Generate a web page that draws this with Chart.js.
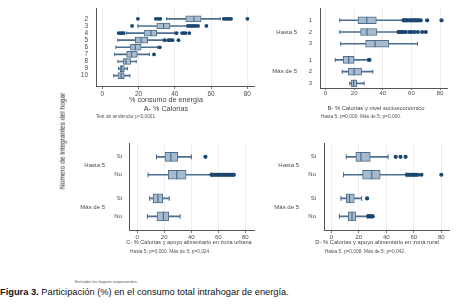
<!DOCTYPE html>
<html>
<head>
<meta charset="utf-8">
<script src="https://cdn.jsdelivr.net/npm/chart.js@4.4.1/dist/chart.umd.min.js"></script>
<style>
  body { margin: 0; background: #fff; }
  #fig { position: relative; width: 457px; height: 306px; overflow: hidden; font-family: "Liberation Sans", Arial, sans-serif; }
  canvas { position: absolute; }
  .t { position: absolute; white-space: nowrap; line-height: 1; color: #444; }
</style>
</head>
<body>
<div id="fig">
  <canvas id="cA" width="194" height="97" style="left:66px;top:3px"></canvas>
  <canvas id="cB" width="193" height="97" style="left:260px;top:3px"></canvas>
  <canvas id="cC" width="200" height="106" style="left:60px;top:138px"></canvas>
  <canvas id="cD" width="193" height="106" style="left:262px;top:138px"></canvas>
</div>
<script>
// A- % Calorías, por número de integrantes
const aRows = ['2', '3', '4', '5', '6', '7', '8', '9', '10'];
const aLow  = [35.5, 19.6, 13.4, 8.6, 7.5, 6.8, 8.6, 8.9, 6.3];
const aQ1   = [46, 30, 23, 18.2, 15.5, 13.4, 11.6, 9.8, 8.6];
const aMed  = [50.5, 33.8, 26.8, 21.4, 18.2, 16.1, 13, 10.7, 10.4];
const aQ3   = [54.5, 37.3, 30, 25, 21.4, 19.3, 15.7, 12.1, 12.1];
const aHigh = [65, 46.5, 40, 33.5, 30.5, 25.9, 18.7, 13.9, 15.2];
const aOut  = [
  [19.6, 29.5, 30.8, 32, 67, 68, 69, 70, 71, 80],
  [16.4, 47.5, 48.5, 49.5, 50.5, 51.5, 52.8, 57.4],
  [9, 10, 11, 11.8, 41, 44, 45, 46, 48],
  [34.5, 36.5, 37.5, 38.7, 42],
  [31.7], [28.5], [], [], []
];

// B- % Calorías y nivel socioeconómico
const bGroups = ['Hasta 5', 'Más de 5'];
const bRows = ['1', '2', '3', '1', '2', '3'];
const bLow  = [10, 10, 10.6, 6.8, 11.7, 16.9];
const bQ1   = [22.7, 24.5, 28, 12.4, 15.8, 18];
const bMed  = [28.8, 29, 34.6, 16.2, 20, 19.6];
const bQ3   = [35.5, 35.7, 44.2, 20, 25.2, 21.8];
const bHigh = [54.2, 50.8, 64.3, 29.5, 33, 27];
const bOut  = [
  [54.5, 55.5, 56.5, 57.5, 59, 60, 61, 62, 63, 64, 65, 66.5, 71, 81],
  [51, 52, 53, 54, 55, 56, 58.5, 60, 62, 64.5, 67.5, 70],
  [], [30.7], [], []
];

// C- % Calorías y apoyo alimentario en zona urbana
const cGroups = ['Hasta 5', 'Más de 5'];
const cRows = ['Si', 'No', 'Si', 'No'];
const cLow  = [14.3, 8.1, 9.3, 7.6];
const cQ1   = [20.6, 23, 11.9, 14.7];
const cMed  = [24.9, 29.3, 15.4, 19.4];
const cQ3   = [30, 36.2, 18.9, 23.4];
const cHigh = [40.1, 54.8, 23.7, 31.7];
const cOut  = [
  [50.5],
  [55, 56, 57, 58, 59, 60, 61, 62, 63, 64, 65, 66, 67, 68, 69, 70, 71, 71.5],
  [], []
];

// D- % Calorías y apoyo alimentario en zona rural
const dGroups = ['Hasta 5', 'Más de 5'];
const dRows = ['Si', 'No', 'Si', 'No'];
const dLow  = [10.9, 8.8, 7, 5.8];
const dQ1   = [17.8, 22.7, 10.9, 12.3];
const dMed  = [21.5, 29.4, 13.2, 15];
const dQ3   = [28.3, 35.5, 16.7, 17.8];
const dHigh = [41.3, 54.5, 22, 26.2];
const dOut  = [
  [46.8, 50.3, 54],
  [55, 56, 57, 58, 59, 60, 61, 62, 63, 65.5, 80],
  [26],
  [26.8, 27.5, 28.2, 29, 29.6, 30.1]
];

const xTicks = [0, 20, 40, 60, 80];

const FONT = '"Liberation Sans", Arial, sans-serif';
const BOX_FILL = '#a8bacd';
const BOX_LINE = '#4c6e8f';
const DOT = '#1a476f';
const TXT = '#4d4d4d';

function groupPlugin(labels, at, offset, size) {
  return {
    id: 'groupLabels',
    afterDraw(chart) {
      const {ctx, chartArea, scales} = chart;
      ctx.save();
      ctx.font = size + 'px ' + FONT;
      ctx.fillStyle = TXT;
      ctx.textAlign = 'right';
      ctx.textBaseline = 'middle';
      labels.forEach((t, i) => ctx.fillText(t, chartArea.left - offset, scales.y.getPixelForValue(at[i])));
      ctx.restore();
    }
  };
}

function boxChart(id, s) {
  const pos = s.rows.map((r, i) => s.pos(i));
  const pts = arr => arr.map((v, i) => ({x: v, y: pos[i]}));
  const outs = [];
  s.out.forEach((list, i) => list.forEach(v => outs.push({x: v, y: pos[i]})));

  const datasets = [
    { type: 'scatter', data: outs, pointStyle: 'circle', pointRadius: s.dot,
      backgroundColor: DOT, borderColor: DOT, borderWidth: 0, order: 1 },
    { type: 'scatter', data: pts(s.med), pointStyle: 'line', pointRotation: 90,
      pointRadius: s.box / 2, borderColor: BOX_LINE, borderWidth: 1.2, order: 2 },
    { type: 'scatter', data: pts(s.lo).concat(pts(s.hi)), pointStyle: 'line', pointRotation: 90,
      pointRadius: s.cap / 2, borderColor: BOX_LINE, borderWidth: 1, order: 3 },
    { type: 'bar', indexAxis: 'y', data: s.q1.map((v, i) => ({x: [v, s.q3[i]], y: pos[i]})),
      backgroundColor: BOX_FILL, borderColor: BOX_LINE, borderWidth: 1, borderSkipped: false,
      grouped: false, barThickness: s.box, maxBarThickness: s.box,
      categoryPercentage: 1, barPercentage: 1, order: 4 },
    { type: 'bar', indexAxis: 'y', data: s.lo.map((v, i) => ({x: [v, s.hi[i]], y: pos[i]})),
      backgroundColor: BOX_LINE, borderWidth: 0, grouped: false, barThickness: 1, maxBarThickness: 1,
      categoryPercentage: 1, barPercentage: 1, order: 5 }
  ];

  const plugins = [];
  if (s.groups) {
    const per = s.rows.length / s.groups.length;
    const at = s.groups.map((g, gi) => (pos[gi * per] + pos[gi * per + per - 1]) / 2);
    plugins.push(groupPlugin(s.groups, at, s.gOff, 6));
  }

  new Chart(document.getElementById(id), {
    type: 'scatter',
    data: { datasets },
    plugins,
    options: {
      responsive: false,
      animation: false,
      devicePixelRatio: 1,
      layout: { padding: 0 },
      plugins: { legend: { display: false }, tooltip: { enabled: false } },
      scales: {
        x: {
          type: 'linear', min: s.xMin, max: s.xMax, offset: false,
          afterBuildTicks: sc => { sc.ticks = xTicks.map(v => ({value: v})); },
          afterFit: sc => { sc.height = s.xh; sc.paddingLeft = 0; sc.paddingRight = 0; },
          grid: { color: '#ebebeb', lineWidth: 0.8, offset: false, drawTicks: true,
                  tickLength: s.tl, tickColor: '#777', tickWidth: 1 },
          border: { color: '#555', width: 1 },
          ticks: { font: { family: FONT, size: s.xf }, color: TXT, padding: s.tp,
                   maxRotation: 0, autoSkip: false }
        },
        y: {
          type: 'linear', reverse: true, min: s.yMin, max: s.yMax, offset: false,
          afterBuildTicks: sc => { sc.ticks = pos.map(v => ({value: v})); },
          afterFit: sc => { sc.width = s.yw; sc.paddingTop = 0; sc.paddingBottom = 0; },
          grid: { display: false, drawTicks: false, offset: false },
          border: { color: '#555', width: 1 },
          ticks: { callback: (v, i) => s.rows[i], padding: s.yp, autoSkip: false,
                   font: { family: FONT, size: s.yf }, color: TXT }
        }
      }
    }
  });
}

boxChart('cA', {
  rows: aRows, lo: aLow, q1: aQ1, med: aMed, q3: aQ3, hi: aHigh, out: aOut,
  pos: i => i + 2, yMin: 0.5, yMax: 11.45, xMin: -3.5, xMax: 84.1,
  box: 6, cap: 3.5, dot: 1.9, yw: 30, xh: 14, tl: 3, tp: 1, xf: 6.5, yf: 6.5, yp: 8
});
boxChart('cB', {
  rows: bRows, groups: bGroups, lo: bLow, q1: bQ1, med: bMed, q3: bQ3, hi: bHigh, out: bOut,
  pos: i => i + Math.floor(i / 3) * 0.38 + 1, yMin: -0.03, yMax: 6.77, xMin: -3.83, xMax: 85.4,
  box: 7, cap: 4, dot: 2.1, yw: 60, xh: 12, tl: 2, tp: 0, xf: 6, yf: 6, yp: 8, gOff: 23
});
boxChart('cC', {
  rows: cRows, groups: cGroups, lo: cLow, q1: cQ1, med: cMed, q3: cQ3, hi: cHigh, out: cOut,
  pos: i => i + Math.floor(i / 2) * 0.32 + 1, yMin: 0.27, yMax: 5.08, xMin: -6, xMax: 86.6,
  box: 9, cap: 5, dot: 2.1, yw: 69, xh: 14, tl: 3, tp: 0.5, xf: 6, yf: 6, yp: 7, gOff: 24
});
boxChart('cD', {
  rows: dRows, groups: dGroups, lo: dLow, q1: dQ1, med: dMed, q3: dQ3, hi: dHigh, out: dOut,
  pos: i => i + Math.floor(i / 2) * 0.32 + 1, yMin: 0.27, yMax: 5.08, xMin: -5.36, xMax: 85.8,
  box: 9, cap: 5, dot: 2.1, yw: 62, xh: 14, tl: 3, tp: 0.5, xf: 6, yf: 6, yp: 8, gOff: 25
});

// texts around the panels
const fig = document.getElementById('fig');
function label(text, x, cy, size, opts) {
  const o = opts || {};
  const d = document.createElement('div');
  d.className = 't';
  d.innerHTML = text;
  d.style.fontSize = size + 'px';
  d.style.left = x + 'px';
  d.style.top = cy + 'px';
  let tf = 'translateY(-50%)';
  if (o.center) tf = 'translate(-50%,-50%)';
  if (o.rotate) tf = 'translate(-50%,-50%) rotate(-90deg)';
  d.style.transform = tf;
  if (o.color) d.style.color = o.color;
  fig.appendChild(d);
}
label('% consumo de energía', 166, 100, 7.2, {center: true});
label('A- % Calorías', 166, 109.3, 7.2, {center: true});
label('Test de tendencia; p&lt;0,0001.', 96, 117.3, 4.7, {color: '#555'});
label('B- % Calorías y nivel socioeconómico', 376, 109.3, 5.8, {center: true});
label('Hasta 5; p=0,000. Más de 5; p=0,000.', 320.7, 117.3, 4.8, {color: '#555'});
label('C- % Calorías y apoyo alimentario en zona urbana', 189, 243.3, 5.6, {center: true});
label('Hasta 5; p=0,000. Más de 5; p=0,024.', 130, 252.3, 4.8, {color: '#555'});
label('D- % Calorías y apoyo alimentario en zona rural', 377, 243.3, 5.8, {center: true});
label('Hasta 5. p=0,008. Más de 5; p=0,042.', 324.7, 252.3, 4.8, {color: '#555'});
label('Número de integrantes del hogar', 62.5, 140.5, 6.6, {rotate: true, color: '#1e1e1e'});
label('Excluidos los hogares unipersonales.', 75, 283.3, 3.8, {color: '#555'});
label('<b>Figura 3.</b> Participación (%) en el consumo total intrahogar de energía.', 0, 292.7, 9.3, {color: '#111'});
</script>
</body>
</html>
